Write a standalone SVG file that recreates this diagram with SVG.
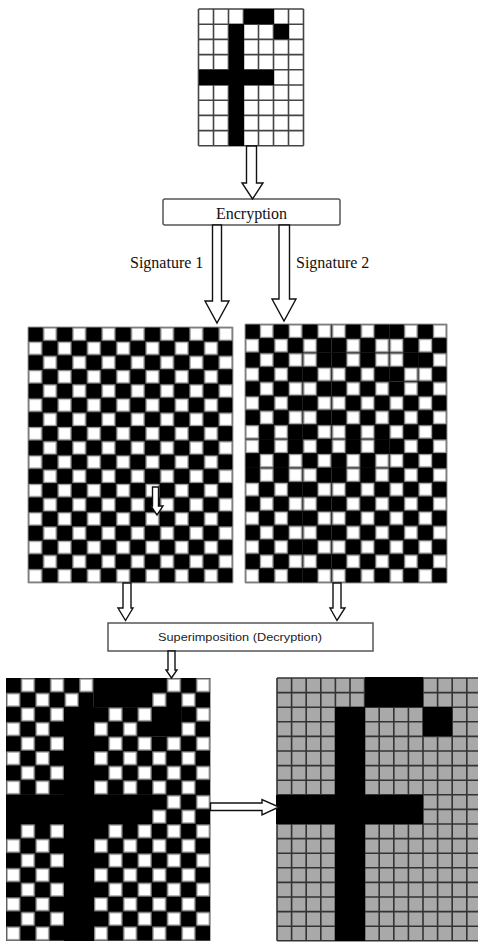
<svg xmlns="http://www.w3.org/2000/svg" xmlns:xlink="http://www.w3.org/1999/xlink" width="478" height="945" viewBox="0 0 478 945">
<style>
.arrow{fill:#fff;stroke:#111;stroke-width:1.4;stroke-linejoin:miter}
.box{fill:#fff;stroke:#555;stroke-width:1.5}
.serif{font-family:"Liberation Serif","Times New Roman",serif;fill:#111}
.sans{font-family:"Liberation Sans",Arial,sans-serif;fill:#222}
.blk{fill:#000;shape-rendering:crispEdges}
.inv{fill:url(#chkB);shape-rendering:crispEdges}
</style>
<defs>
<pattern id="chkA" patternUnits="userSpaceOnUse" width="2" height="2">
<rect width="2" height="2" fill="#000"/>
<rect x="1.07" y="0.07" width="0.86" height="0.86" fill="#fff" stroke="#999" stroke-width="0.09"/>
<rect x="0.07" y="1.07" width="0.86" height="0.86" fill="#fff" stroke="#999" stroke-width="0.09"/>
</pattern>
<pattern id="chkB" patternUnits="userSpaceOnUse" width="2" height="2">
<rect width="2" height="2" fill="#000"/>
<rect x="0.07" y="0.07" width="0.86" height="0.86" fill="#fff" stroke="#999" stroke-width="0.09"/>
<rect x="1.07" y="1.07" width="0.86" height="0.86" fill="#fff" stroke="#999" stroke-width="0.09"/>
</pattern>
<path id="g7" fill="none" vector-effect="non-scaling-stroke" d="M0 0V9M1 0V9M2 0V9M3 0V9M4 0V9M5 0V9M6 0V9M7 0V9M0 0H7M0 1H7M0 2H7M0 3H7M0 4H7M0 5H7M0 6H7M0 7H7M0 8H7M0 9H7"/>
<path id="g14" fill="none" vector-effect="non-scaling-stroke" d="M0 0V18M1 0V18M2 0V18M3 0V18M4 0V18M5 0V18M6 0V18M7 0V18M8 0V18M9 0V18M10 0V18M11 0V18M12 0V18M13 0V18M14 0V18M0 0H14M0 1H14M0 2H14M0 3H14M0 4H14M0 5H14M0 6H14M0 7H14M0 8H14M0 9H14M0 10H14M0 11H14M0 12H14M0 13H14M0 14H14M0 15H14M0 16H14M0 17H14M0 18H14"/>
<path id="frame14" fill="none" vector-effect="non-scaling-stroke" d="M0 0H14V18H0Z"/>
</defs>

<g id="secret-image" transform="translate(198.5,9) scale(15,15.2)">
<rect width="7" height="9" fill="#fff"/>
<use xlink:href="#g7" stroke="#444" stroke-width="1.6"/>
<rect class="blk" x="3" y="0" width="2" height="1"/>
<rect class="blk" x="5" y="1" width="1" height="1"/>
<rect class="blk" x="2" y="1" width="1" height="8"/>
<rect class="blk" x="0" y="4" width="2" height="1"/>
<rect class="blk" x="3" y="4" width="2" height="1"/>
</g>

<g id="encryption">
<rect class="box" x="163" y="199" width="177" height="26" rx="2"/>
<text class="serif" x="251.5" y="219" font-size="16" text-anchor="middle">Encryption</text>
</g>

<g id="labels">
<text class="serif" x="130" y="268" font-size="16">Signature 1</text>
<text class="serif" x="296" y="268" font-size="16">Signature 2</text>
</g>

<g id="share1" transform="translate(28,327) scale(14.64,14.22)">
<rect width="14" height="18" fill="url(#chkA)"/>
<use xlink:href="#frame14" stroke="#999" stroke-width="1"/>
</g>

<g id="share2" transform="translate(245,324) scale(14.43,14.39)">
<rect width="14" height="18" fill="url(#chkA)"/>
<rect class="inv" x="6" y="0" width="4" height="2"/>
<rect class="inv" x="10" y="2" width="2" height="2"/>
<rect class="inv" x="4" y="2" width="2" height="16"/>
<rect class="inv" x="0" y="8" width="4" height="2"/>
<rect class="inv" x="6" y="8" width="4" height="2"/>
<use xlink:href="#frame14" stroke="#999" stroke-width="1"/>
</g>

<g id="superimposition">
<rect class="box" x="108" y="623" width="265" height="28"/>
<text class="sans" x="240" y="641" font-size="11.5" text-anchor="middle" textLength="164" lengthAdjust="spacingAndGlyphs">Superimposition (Decryption)</text>
</g>

<g id="result-overlay" transform="translate(6,678) scale(14.6,14.6)">
<rect width="14" height="18" fill="url(#chkA)"/>
<rect class="blk" x="6" y="0" width="4" height="2"/>
<rect class="blk" x="10" y="2" width="2" height="2"/>
<rect class="blk" x="4" y="2" width="2" height="16"/>
<rect class="blk" x="0" y="8" width="4" height="2"/>
<rect class="blk" x="6" y="8" width="4" height="2"/>
</g>

<g id="result-decoded" transform="translate(277,678) scale(14.6,14.6)">
<rect width="14" height="18" fill="#a9a9a9"/>
<use xlink:href="#g14" stroke="#333" stroke-width="1.6"/>
<rect class="blk" x="6" y="-0.05" width="4" height="2.05"/>
<rect class="blk" x="10" y="2" width="2" height="2"/>
<rect class="blk" x="4" y="2" width="2" height="16"/>
<rect class="blk" x="-0.05" y="8" width="4.05" height="2"/>
<rect class="blk" x="6" y="8" width="4" height="2"/>
</g>

<g id="connectors">
<polygon class="arrow" points="246.5,146 256.5,146 256.5,183 263,183 252.5,199 242,183 246.5,183"/>
<polygon class="arrow" points="212.5,225 221.5,225 221.5,301 229,301 217,323 205,301 212.5,301"/>
<polygon class="arrow" points="279,225 289.5,225 289.5,299 296,299 284,321 272,299 279,299"/>
<polygon class="arrow" points="152.5,487 158.5,487 158.5,506 163,506 157,515 151,506 152.5,506"/>
<polygon class="arrow" points="123,583 131,583 131,608 133,608 125.5,620.5 118,608 123,608"/>
<polygon class="arrow" points="333,583 341,583 341,608 345,608 337,620.5 330,608 333,608"/>
<polygon class="arrow" points="168,651 175,651 175,670 177,670 171.5,678 166,670 168,670"/>
<polygon class="arrow" points="210.5,803 262,803 262,799.5 279,807 262,815 262,810.5 210.5,810.5"/>
</g>
</svg>
